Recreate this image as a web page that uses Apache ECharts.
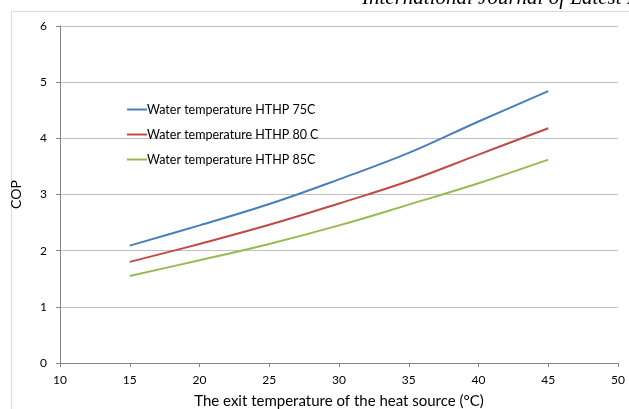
<!DOCTYPE html>
<html>
<head>
<meta charset="utf-8">
<script src="https://cdn.jsdelivr.net/npm/echarts@6/dist/echarts.min.js"></script>
<style>html,body{margin:0;padding:0;background:#fff;overflow:hidden;}#c{width:629px;height:409px;}</style>
</head>
<body>
<div id="c"></div>
<script>
const xValues = [15, 20, 25, 30, 35, 40, 45];
const seriesNames = ['Water temperature HTHP 75C', 'Water temperature HTHP 80 C', 'Water temperature HTHP 85C'];
const cop75 = [2.09, 2.45, 2.83, 3.27, 3.74, 4.30, 4.84];
const cop80 = [1.80, 2.12, 2.46, 2.84, 3.24, 3.71, 4.18];
const cop85 = [1.55, 1.83, 2.12, 2.45, 2.82, 3.20, 3.62];
const colors = ['#4a7ebb', '#be4b48', '#98b954'];
const xAxisName = 'The exit temperature of the heat source (°C)';
const yAxisName = 'COP';
const headerText = 'International Journal of Latest Research';

const pairs = arr => xValues.map((x, i) => [x, arr[i]]);
const font = 'Lato, "Open Sans", sans-serif';

const chart = echarts.init(document.getElementById('c'), null, {renderer: 'canvas'});
chart.setOption({
  animation: false,
  backgroundColor: '#fff',
  graphic: [
    {type: 'rect', left: 9, top: 9, shape: {width: 1000, height: 800}, style: {fill: 'none', stroke: '#d9d9d9', lineWidth: 1}, z: -1},
    {type: 'text', left: 362, top: -12, style: {text: headerText, font: 'italic 21px "Liberation Serif", serif', fill: '#000'}}
  ],
  grid: {left: 60, right: 11, top: 26, bottom: 46, containLabel: false, outerBoundsMode: 'none'},
  legend: {
    left: 122, top: 98, orient: 'vertical', itemGap: 12,
    itemWidth: 20, itemHeight: 2, icon: 'rect',
    textStyle: {fontFamily: font, fontSize: 12.5, color: '#000', padding: [0, 0, 0, -5]},
    data: seriesNames
  },
  xAxis: {
    type: 'value', min: 10, max: 50, interval: 5,
    name: xAxisName, nameLocation: 'middle', nameGap: 31,
    nameTextStyle: {fontFamily: font, fontSize: 15, color: '#000'},
    axisLine: {show: true, lineStyle: {color: '#868686'}},
    axisTick: {show: true, length: 4, lineStyle: {color: '#868686'}},
    axisLabel: {fontFamily: font, fontSize: 12, color: '#000', margin: 11},
    splitLine: {show: false}
  },
  yAxis: {
    type: 'value', min: 0, max: 6, interval: 1,
    name: yAxisName, nameLocation: 'middle', nameGap: 37, nameRotate: 90,
    nameTextStyle: {fontFamily: font, fontSize: 14, color: '#000'},
    axisLine: {show: true, lineStyle: {color: '#868686'}},
    axisTick: {show: true, length: 4, lineStyle: {color: '#868686'}},
    axisLabel: {fontFamily: font, fontSize: 12, color: '#000', margin: 13},
    splitLine: {show: true, lineStyle: {color: '#c0c0c0'}}
  },
  series: [cop75, cop80, cop85].map((d, i) => ({
    name: seriesNames[i], type: 'line', data: pairs(d), smooth: 0.4,
    showSymbol: false, symbol: 'none',
    lineStyle: {color: colors[i], width: 2}, itemStyle: {color: colors[i]}
  }))
});
</script>
</body>
</html>
